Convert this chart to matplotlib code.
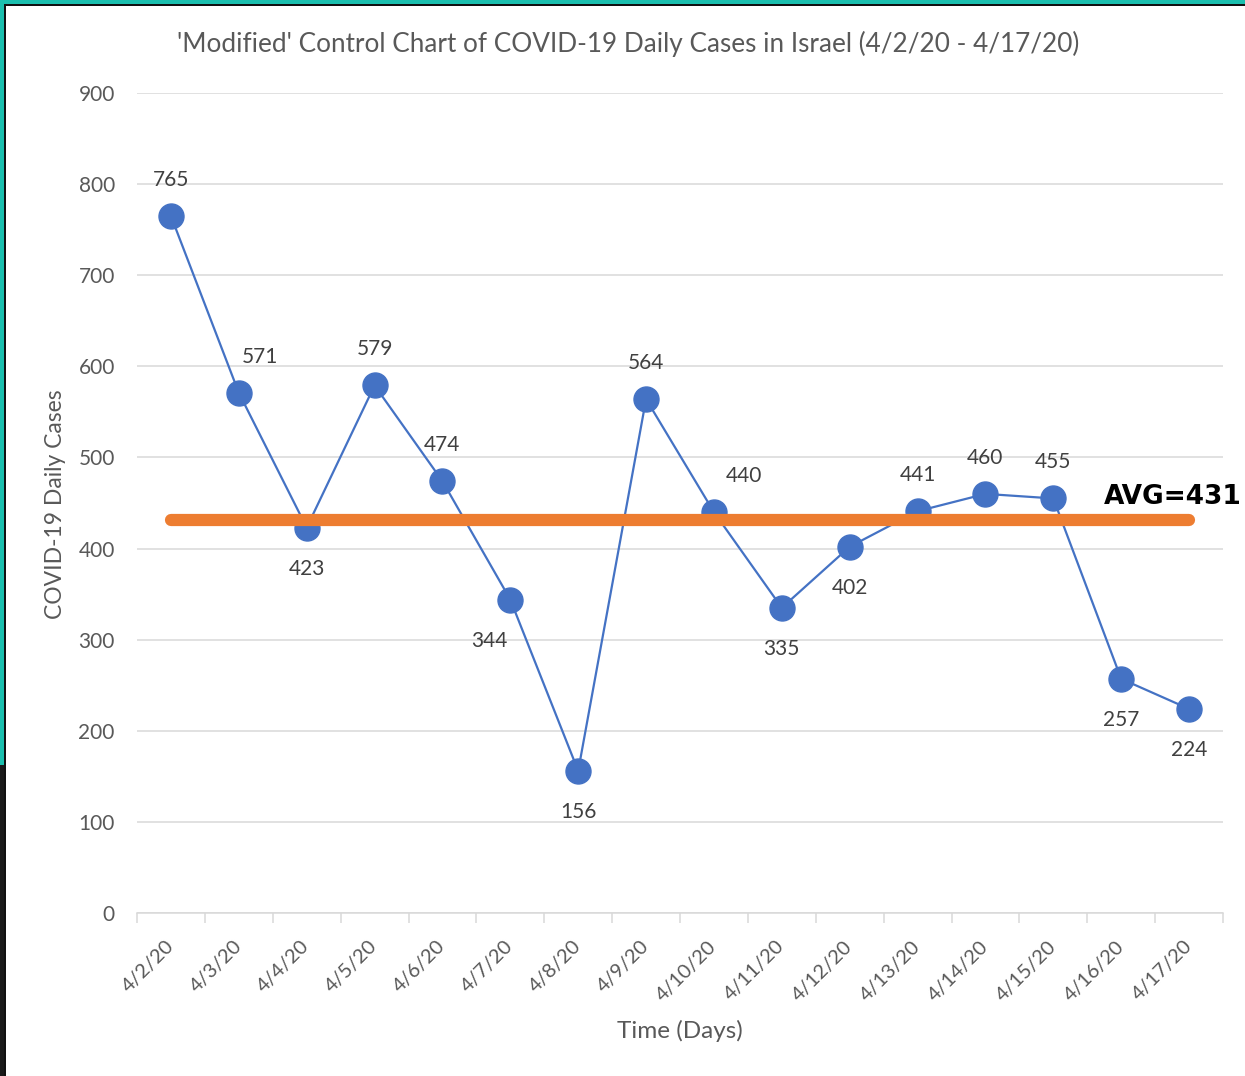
import matplotlib
matplotlib.use("Agg")
import matplotlib.pyplot as plt
from matplotlib.patches import Rectangle

# ---- data ----
dates = ["4/2/20", "4/3/20", "4/4/20", "4/5/20", "4/6/20", "4/7/20", "4/8/20", "4/9/20",
         "4/10/20", "4/11/20", "4/12/20", "4/13/20", "4/14/20", "4/15/20", "4/16/20", "4/17/20"]
cases = [765, 571, 423, 579, 474, 344, 156, 564, 440, 335, 402, 441, 460, 455, 257, 224]
avg_value = 431
label_side = ["above", "above", "below", "above", "above", "below", "below", "above",
              "above", "below", "below", "above", "above", "above", "below", "below"]
label_shift = [0, 21, 0, 0, 0, -21, 0, 0, 30, 0, 0, 0, 0, 0, 0, 0]
y_ticks = [0, 100, 200, 300, 400, 500, 600, 700, 800, 900]

plt.rcParams['font.family'] = ['Lato', 'DejaVu Sans']

W, H = 1245, 1076
fig = plt.figure(figsize=(W / 100, H / 100), dpi=100)
fig.patch.set_facecolor("white")

ax = fig.add_axes([137 / W, 1 - 913 / H, (1223 - 137) / W, (913 - 93) / H])
x = list(range(len(cases)))

ax.set_xlim(-0.5, len(cases) - 0.5)
ax.set_ylim(0, 900)
ax.set_yticks(y_ticks)
ax.grid(axis="y", color="#D9D9D9", linewidth=1.1, zorder=0)
ax.set_axisbelow(True)
for s in ["left", "right", "top"]:
    ax.spines[s].set_visible(False)
ax.spines["bottom"].set_color("#D9D9D9")
ax.spines["bottom"].set_linewidth(1.1)

ax.tick_params(axis="y", length=0, pad=16, labelsize=15, labelcolor="#595959")
ax.set_xticks(x)
ax.set_xticklabels(dates, rotation=45, ha="right", rotation_mode="anchor", va="center")
ax.tick_params(axis="x", which="major", length=0, pad=22, labelsize=14.5, labelcolor="#595959")
ax.set_xticks([i - 0.5 for i in range(len(cases) + 1)], minor=True)
ax.tick_params(axis="x", which="minor", length=7, width=1.1, color="#D9D9D9")

ax.plot(x, cases, color="#4472C4", linewidth=1.6, marker="o", markersize=18,
        markerfacecolor="#4472C4", markeredgecolor="#4472C4", zorder=3)
ax.plot([x[0], x[-1]], [avg_value, avg_value], color="#ED7D31", linewidth=8.8,
        solid_capstyle="round", zorder=4)

for i, v in enumerate(cases):
    dy = 36 if label_side[i] == "above" else -41
    ax.annotate(str(v), (i, v), xytext=(label_shift[i], dy), textcoords="offset pixels",
                ha="center", va="center", fontsize=15, color="#404040", zorder=5)

fig.text(1104 / W, 1 - 497 / H, "AVG=" + str(avg_value), fontsize=19, fontweight="bold",
         family="DejaVu Sans", color="black", ha="left", va="center")

fig.text(628 / W, 1 - 44 / H, "'Modified' Control Chart of COVID-19 Daily Cases in Israel (4/2/20 - 4/17/20)",
         fontsize=18.8, color="#595959", ha="center", va="center")
fig.text(56 / W, 1 - 504 / H, "COVID-19 Daily Cases", fontsize=16.5, color="#595959",
         rotation=90, ha="center", va="center")
fig.text(680 / W, 1 - 1031 / H, "Time (Days)", fontsize=17.5, color="#595959",
         ha="center", va="center")

# frame
teal = "#1BBFAE"
fig.patches.append(Rectangle((0, 1 - 4 / H), 1, 4 / H, transform=fig.transFigure,
                             facecolor=teal, edgecolor="none", zorder=10))
fig.patches.append(Rectangle((0, 1 - 6 / H), 1, 2 / H, transform=fig.transFigure,
                             facecolor="#111111", edgecolor="none", zorder=10))
fig.patches.append(Rectangle((0, 1 - 765 / H), 4 / W, 765 / H, transform=fig.transFigure,
                             facecolor=teal, edgecolor="none", zorder=10))
fig.patches.append(Rectangle((0, 0), 4 / W, 1 - 765 / H, transform=fig.transFigure,
                             facecolor="#1A1A1A", edgecolor="none", zorder=10))
fig.patches.append(Rectangle((4 / W, 0), 2 / W, 1 - 4 / H, transform=fig.transFigure,
                             facecolor="#111111", edgecolor="none", zorder=10))

fig.savefig("out.png", dpi=100)
